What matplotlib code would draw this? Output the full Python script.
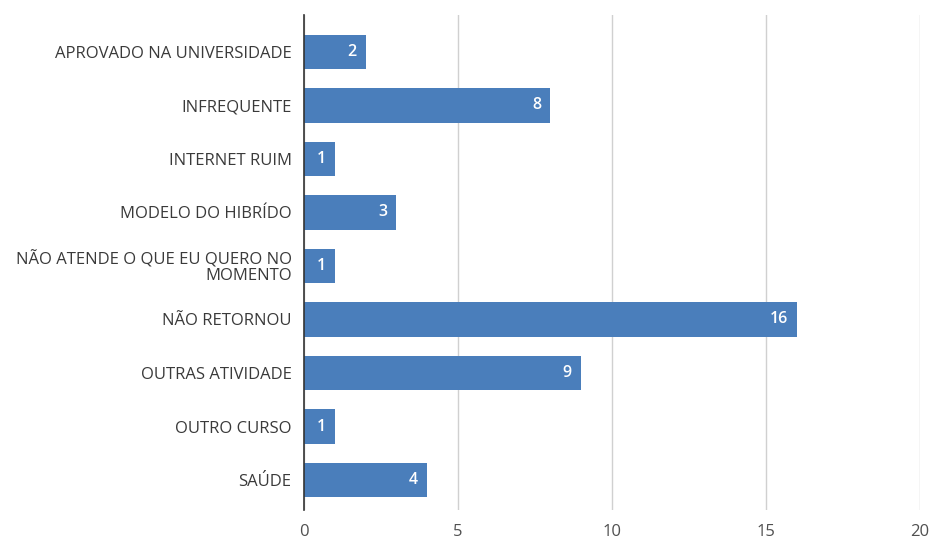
import matplotlib
matplotlib.use("Agg")
import matplotlib.pyplot as plt

categories = ["APROVADO NA UNIVERSIDADE", "INFREQUENTE", "INTERNET RUIM",
              "MODELO DO HIBRÍDO", "NÃO ATENDE O QUE EU QUERO NO\nMOMENTO",
              "NÃO RETORNOU", "OUTRAS ATIVIDADE", "OUTRO CURSO", "SAÚDE"]
values = [2, 8, 1, 3, 1, 16, 9, 1, 4]
xticks = [0, 5, 10, 15, 20]

plt.rcParams['font.family'] = ['Open Sans', 'DejaVu Sans']

fig = plt.figure(figsize=(9.3, 5.39), dpi=100)
ax = fig.add_axes([304/930, 1 - 510/539, (920-304)/930, (510-15)/539])

y = list(range(len(categories)))
ax.barh(y, values, height=0.64, color="#4a7ebb", zorder=3)
for yi, v in zip(y, values):
    ax.text(v - 0.3, yi, str(v), color="white", ha="right", va="center",
            fontsize=11.5, fontweight="semibold", zorder=4)

ax.set_yticks(y)
ax.set_yticklabels(categories, fontsize=12, color="#3a3a3a", linespacing=0.95)
ax.set_ylim(len(categories) - 1 + 0.56, -0.69)
ax.set_xlim(0, 20)
ax.set_xticks(xticks)
ax.set_xticklabels([str(t) for t in xticks], fontsize=12, color="#505050")
ax.grid(axis="x", color="#d0d0d0", linewidth=1, zorder=0)
ax.tick_params(axis="y", length=0, pad=9)
ax.tick_params(axis="x", length=0, pad=10)
for s in ["top", "right", "bottom"]:
    ax.spines[s].set_visible(False)
ax.spines["left"].set_color("#333333")
ax.spines["left"].set_linewidth(1.2)
ax.spines["left"].set_zorder(5)

fig.savefig("out.png", dpi=100)
